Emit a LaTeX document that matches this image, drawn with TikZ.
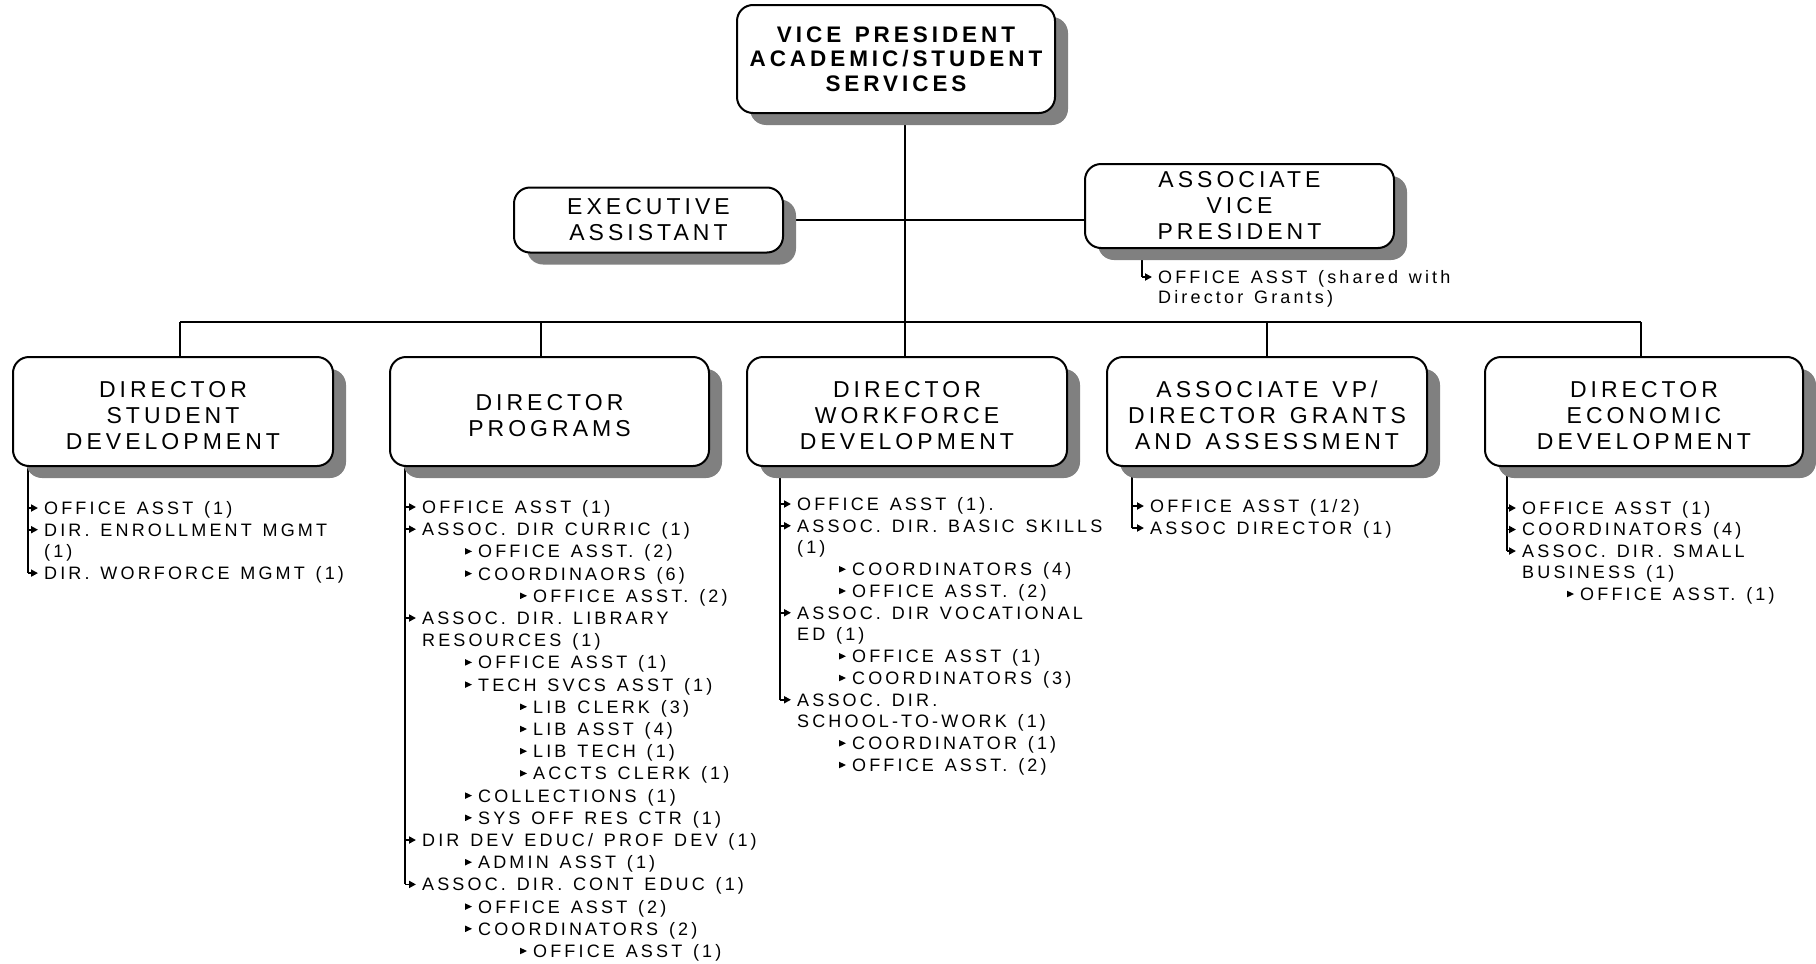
\documentclass[tikz,border=0pt]{standalone}
\usepackage{fontspec}
\setmainfont{Liberation Sans}
\newfontfamily\spaced{Liberation Sans}[LetterSpace=17.5,WordSpace=1.33]
\usetikzlibrary{shadows,arrows.meta}
\pgfdeclarelayer{bg}
\pgfsetlayers{bg,main}

% one list entry: name, x, y (cap middle), text
\newcommand\entry[4]{\node[item] (#1) at (#2,#3) {#4};}
% bracket stem from a list's vertical line to an entry
\newcommand\stem[2]{\draw[stemline] (#1 |- #2.west) -- ([xshift=-6pt]#2.west);}
% small triangle bullet in front of a nested entry
\newcommand\tribullet[1]{\fill ([xshift=-13pt,yshift=3.3pt]#1.west) -- ([xshift=-6pt]#1.west) -- ([xshift=-13pt,yshift=-3.3pt]#1.west) -- cycle;}
% director box with its title set a little below the middle
\newcommand\dirunit[4]{%
  \node[dirbox, minimum width=#3] (#1) at #2 {};
  \node[boxtext] (#1t) at ([yshift=-4pt]#1.center) {#4};}

\tikzset{
  boxtext/.style={inner sep=0pt, align=center, font=\spaced\fontsize{23}{26}\selectfont},
  unitbox/.style={draw=black, line width=2pt, fill=white, rounded corners=16pt,
    boxtext,
    drop shadow={shadow xshift=13pt, shadow yshift=-12pt, fill=black!50, opacity=1}},
  dirbox/.style={unitbox, minimum height=109pt},
  topbox/.style={unitbox, font=\spaced\bfseries\fontsize{22.5}{24.5}\selectfont},
  item/.style={anchor=west, inner sep=0pt, text height=12.9pt, text depth=0pt,
    font=\spaced\fontsize{18}{22}\selectfont},
  link/.style={line width=1.8pt},
  stemline/.style={line width=1.8pt, -{Triangle[length=7pt,width=7pt]}},
}

\begin{document}
\begin{tikzpicture}[x=1pt,y=-1pt]
\path[use as bounding box] (0,0) rectangle (1816,964);

% ---- boxes
\node[topbox, minimum width=318pt, minimum height=108pt] (vp) at (896,59)
  {VICE PRESIDENT\\ACADEMIC/STUDENT\\SERVICES};
\node[unitbox, minimum width=269pt, minimum height=65pt] (ea) at (648.5,220)
  {EXECUTIVE\\ASSISTANT};
\node[unitbox, minimum width=309pt, minimum height=84pt] (avp) at (1239.5,206)
  {ASSOCIATE\\VICE\\PRESIDENT};

\dirunit{sd}{(173,411.5)}{320pt}{DIRECTOR\\STUDENT\\DEVELOPMENT}
\dirunit{pr}{(549.5,411.5)}{319pt}{DIRECTOR\\PROGRAMS}
\dirunit{wd}{(907,411.5)}{320pt}{DIRECTOR\\WORKFORCE\\DEVELOPMENT}
\dirunit{ga}{(1267,411.5)}{320pt}{ASSOCIATE VP/\\DIRECTOR GRANTS\\AND ASSESSMENT}
\dirunit{ed}{(1644,411.5)}{318pt}{DIRECTOR\\ECONOMIC\\DEVELOPMENT}

% ---- bar and drops
\coordinate (b1) at (180,322);
\coordinate (b2) at (541,322);
\coordinate (b3) at (905,322);
\coordinate (b4) at (1267,322);
\coordinate (b5) at (1641,322);

% ---- list bracket tops
\coordinate (avpbr) at (1142,248);
\coordinate (sdbr) at (28,466);
\coordinate (prbr) at (405,466);
\coordinate (wdbr) at (780,466);
\coordinate (gabr) at (1132,466);
\coordinate (edbr) at (1507,466);

% ---- entries: associate vice president
\entry{a1}{1158}{277}{OFFICE ASST (shared with}
\entry{a1b}{1158}{297}{Director Grants)}

% ---- entries: student development
\entry{s1}{44}{508}{OFFICE ASST (1)}
\entry{s2}{44}{529.7}{DIR. ENROLLMENT MGMT}
\entry{s2b}{44}{551.4}{(1)}
\entry{s3}{44}{573.1}{DIR. WORFORCE MGMT (1)}

% ---- entries: programs
\entry{p1}{422}{507}{OFFICE ASST (1)}
\entry{p2}{422}{529.2}{ASSOC. DIR CURRIC (1)}
\entry{p3}{478}{551.4}{OFFICE ASST. (2)}
\entry{p4}{478}{573.6}{COORDINAORS (6)}
\entry{p5}{533}{595.8}{OFFICE ASST. (2)}
\entry{p6}{422}{618}{ASSOC. DIR. LIBRARY}
\entry{p6b}{422}{640.2}{RESOURCES (1)}
\entry{p7}{478}{662.4}{OFFICE ASST (1)}
\entry{p8}{478}{684.6}{TECH SVCS ASST (1)}
\entry{p9}{533}{706.8}{LIB CLERK (3)}
\entry{p10}{533}{729}{LIB ASST (4)}
\entry{p11}{533}{751.2}{LIB TECH (1)}
\entry{p12}{533}{773.4}{ACCTS CLERK (1)}
\entry{p13}{478}{795.6}{COLLECTIONS (1)}
\entry{p14}{478}{817.8}{SYS OFF RES CTR (1)}
\entry{p15}{422}{840}{DIR DEV EDUC/ PROF DEV (1)}
\entry{p16}{478}{862.2}{ADMIN ASST (1)}
\entry{p17}{422}{884.4}{ASSOC. DIR. CONT EDUC (1)}
\entry{p18}{478}{906.6}{OFFICE ASST (2)}
\entry{p19}{478}{928.8}{COORDINATORS (2)}
\entry{p20}{533}{951}{OFFICE ASST (1)}

% ---- entries: workforce development
\entry{w1}{797}{504}{OFFICE ASST (1).}
\entry{w2}{797}{525.75}{ASSOC. DIR. BASIC SKILLS}
\entry{w2b}{797}{547.5}{(1)}
\entry{w3}{852}{569.25}{COORDINATORS (4)}
\entry{w4}{852}{591}{OFFICE ASST. (2)}
\entry{w5}{797}{612.75}{ASSOC. DIR VOCATIONAL}
\entry{w5b}{797}{634.5}{ED (1)}
\entry{w6}{852}{656.25}{OFFICE ASST (1)}
\entry{w7}{852}{678}{COORDINATORS (3)}
\entry{w8}{797}{699.75}{ASSOC. DIR.}
\entry{w8b}{797}{721.5}{SCHOOL-TO-WORK (1)}
\entry{w9}{852}{743.25}{COORDINATOR (1)}
\entry{w10}{852}{765}{OFFICE ASST. (2)}

% ---- entries: grants and assessment
\entry{g1}{1150}{506}{OFFICE ASST (1/2)}
\entry{g2}{1150}{528}{ASSOC DIRECTOR (1)}

% ---- entries: economic development
\entry{e1}{1522}{508}{OFFICE ASST (1)}
\entry{e2}{1522}{529.5}{COORDINATORS (4)}
\entry{e3}{1522}{551}{ASSOC. DIR. SMALL}
\entry{e3b}{1522}{572.5}{BUSINESS (1)}
\entry{e4}{1580}{594}{OFFICE ASST. (1)}

% ---- connectors, kept under the box shadows
\begin{pgfonlayer}{bg}
  \draw[link] (b3 |- vp.south) -- (b3 |- wd.north);
  \draw[link] (b1) -- (b5);
  \draw[link] (b1) -- (b1 |- sd.north);
  \draw[link] (b2) -- (b2 |- pr.north);
  \draw[link] (b4) -- (b4 |- ga.north);
  \draw[link] (b5) -- (b5 |- ed.north);
  \draw[link] (ea.east) -- (ea.east -| avp.west);

  \draw[link] (avpbr) -- (avpbr |- a1.west);
  \draw[link] (sdbr) -- (sdbr |- s3.west);
  \draw[link] (prbr) -- (prbr |- p17.west);
  \draw[link] (wdbr) -- (wdbr |- w8.west);
  \draw[link] (gabr) -- (gabr |- g2.west);
  \draw[link] (edbr) -- (edbr |- e3.west);
\end{pgfonlayer}

% ---- stems from the brackets
\stem{avpbr}{a1}
\stem{sdbr}{s1} \stem{sdbr}{s2} \stem{sdbr}{s3}
\stem{prbr}{p1} \stem{prbr}{p2} \stem{prbr}{p6} \stem{prbr}{p15} \stem{prbr}{p17}
\stem{wdbr}{w1} \stem{wdbr}{w2} \stem{wdbr}{w5} \stem{wdbr}{w8}
\stem{gabr}{g1} \stem{gabr}{g2}
\stem{edbr}{e1} \stem{edbr}{e2} \stem{edbr}{e3}

% ---- bullets of nested entries
\foreach \n in {p3,p4,p5,p7,p8,p9,p10,p11,p12,p13,p14,p16,p18,p19,p20,
                w3,w4,w6,w7,w9,w10,e4}
  {\tribullet{\n}}
\end{tikzpicture}
\end{document}
